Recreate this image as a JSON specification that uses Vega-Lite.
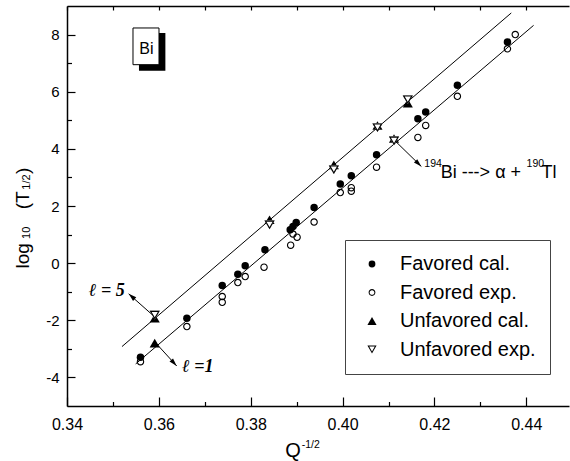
{
  "$schema": "https://vega.github.io/schema/vega-lite/v6.json",
  "width": 502,
  "height": 400,
  "autosize": {"type": "none"},
  "padding": {"left": 67, "top": 6, "right": 1, "bottom": 55},
  "background": "white",
  "config": {
    "view": {"stroke": null},
    "axis": {"grid": false},
    "font": "Liberation Sans",
    "legend": {
      "orient": "none",
      "legendX": 278,
      "legendY": 234,
      "padding": 14,
      "rowPadding": 8.5,
      "symbolOffset": 3,
      "labelOffset": 18,
      "labelFontSize": 20,
      "labelFont": "Liberation Sans",
      "labelColor": "black",
      "strokeColor": "#444444",
      "fillColor": "white",
      "symbolSize": 46,
      "symbolFillColor": "black",
      "symbolStrokeWidth": 0
    }
  },
  "datasets": {
    "pts": [
      {"x": 0.3560, "y": -3.29, "series": "Favored cal."},
      {"x": 0.3661, "y": -1.93, "series": "Favored cal."},
      {"x": 0.3738, "y": -0.78, "series": "Favored cal."},
      {"x": 0.3772, "y": -0.39, "series": "Favored cal."},
      {"x": 0.3788, "y": -0.09, "series": "Favored cal."},
      {"x": 0.3831, "y": 0.47, "series": "Favored cal."},
      {"x": 0.3886, "y": 1.17, "series": "Favored cal."},
      {"x": 0.3892, "y": 1.28, "series": "Favored cal."},
      {"x": 0.3899, "y": 1.42, "series": "Favored cal."},
      {"x": 0.3938, "y": 1.95, "series": "Favored cal."},
      {"x": 0.3995, "y": 2.77, "series": "Favored cal."},
      {"x": 0.4019, "y": 3.06, "series": "Favored cal."},
      {"x": 0.4074, "y": 3.79, "series": "Favored cal."},
      {"x": 0.4164, "y": 5.05, "series": "Favored cal."},
      {"x": 0.4181, "y": 5.29, "series": "Favored cal."},
      {"x": 0.4250, "y": 6.23, "series": "Favored cal."},
      {"x": 0.4359, "y": 7.74, "series": "Favored cal."},
      {"x": 0.3560, "y": -3.45, "series": "Favored exp."},
      {"x": 0.3661, "y": -2.22, "series": "Favored exp."},
      {"x": 0.3738, "y": -1.17, "series": "Favored exp."},
      {"x": 0.3738, "y": -1.37, "series": "Favored exp."},
      {"x": 0.3772, "y": -0.68, "series": "Favored exp."},
      {"x": 0.3788, "y": -0.47, "series": "Favored exp."},
      {"x": 0.3829, "y": -0.14, "series": "Favored exp."},
      {"x": 0.3887, "y": 0.63, "series": "Favored exp."},
      {"x": 0.3892, "y": 1.02, "series": "Favored exp."},
      {"x": 0.3901, "y": 0.91, "series": "Favored exp."},
      {"x": 0.3938, "y": 1.44, "series": "Favored exp."},
      {"x": 0.3995, "y": 2.47, "series": "Favored exp."},
      {"x": 0.4019, "y": 2.64, "series": "Favored exp."},
      {"x": 0.4019, "y": 2.52, "series": "Favored exp."},
      {"x": 0.4074, "y": 3.36, "series": "Favored exp."},
      {"x": 0.4164, "y": 4.40, "series": "Favored exp."},
      {"x": 0.4181, "y": 4.82, "series": "Favored exp."},
      {"x": 0.4250, "y": 5.84, "series": "Favored exp."},
      {"x": 0.4359, "y": 7.50, "series": "Favored exp."},
      {"x": 0.4376, "y": 8.00, "series": "Favored exp."},
      {"x": 0.3591, "y": -1.93, "series": "Unfavored cal."},
      {"x": 0.3591, "y": -2.80, "series": "Unfavored cal."},
      {"x": 0.3841, "y": 1.52, "series": "Unfavored cal."},
      {"x": 0.3981, "y": 3.44, "series": "Unfavored cal."},
      {"x": 0.4076, "y": 4.82, "series": "Unfavored cal."},
      {"x": 0.4112, "y": 4.36, "series": "Unfavored cal."},
      {"x": 0.4142, "y": 5.60, "series": "Unfavored cal."},
      {"x": 0.3591, "y": -1.82, "series": "Unfavored exp."},
      {"x": 0.3841, "y": 1.34, "series": "Unfavored exp."},
      {"x": 0.3981, "y": 3.27, "series": "Unfavored exp."},
      {"x": 0.4076, "y": 4.74, "series": "Unfavored exp."},
      {"x": 0.4112, "y": 4.28, "series": "Unfavored exp."},
      {"x": 0.4142, "y": 5.72, "series": "Unfavored exp."}
    ],
    "fits": [
      {"x": 0.35197, "y": -2.92, "x2": 0.43673, "y2": 8.757},
      {"x": 0.35495, "y": -3.527, "x2": 0.44159, "y2": 8.322}
    ],
    "arrows": [
      {"name": "l5", "x": 0.35909, "y": -1.881, "x2": 0.35343, "y2": -1.075},
      {"name": "l1", "x": 0.35931, "y": -2.792, "x2": 0.36388, "y2": -3.597},
      {"name": "bi", "x": 0.41118, "y": 4.319, "x2": 0.41715, "y2": 3.384}
    ],
    "box": [
      {"part": "shadow", "x": 0.35567, "x2": 0.36142, "y": 8.056, "y2": 6.736},
      {"part": "box", "x": 0.35437, "x2": 0.36003, "y": 8.231, "y2": 6.946}
    ],
    "notes": [
      {"k": "sup", "t": "194", "x": 0.4178, "y": 3.356},
      {"k": "mid", "t": "Bi ---> α +", "x": 0.42135, "y": 2.977},
      {"k": "sup", "t": "190", "x": 0.44007, "y": 3.356},
      {"k": "mid", "t": "Tl", "x": 0.44333, "y": 2.977},
      {"k": "ell", "t": "ℓ = 5", "x": 0.34864, "y": -0.963},
      {"k": "ell", "t": "ℓ =1", "x": 0.36845, "y": -3.65},
      {"k": "bi", "t": "Bi", "x": 0.35728, "y": 7.32},
      {"k": "xt", "t": "Q", "x": 0.3892, "y": -6.785},
      {"k": "sup", "t": "-1/2", "x": 0.39109, "y": -6.469},
      {"k": "ytb", "t": "log", "x": 0.33049, "y": 0.256},
      {"k": "yts", "t": "10", "x": 0.33123, "y": 1.061},
      {"k": "ytb", "t": "(T", "x": 0.33049, "y": 2.2},
      {"k": "yts", "t": "1/2", "x": 0.33123, "y": 2.84},
      {"k": "ytb", "t": ")", "x": 0.33049, "y": 3.23}
    ]
  },
  "resolve": {"axis": {"x": "independent", "y": "independent"}},
  "layer": [
    {
      "data": {"name": "fits"},
      "mark": {"type": "rule", "color": "black", "strokeWidth": 1},
      "encoding": {
        "x": {"field": "x", "type": "quantitative", "scale": {"domain": [0.34, 0.4493], "nice": false, "zero": false},
          "axis": {"orient": "bottom", "values": [0.34, 0.36, 0.38, 0.40, 0.42, 0.44], "ticks": false, "labelPadding": 10, "labelFontSize": 16, "labelFont": "Liberation Sans", "labelColor": "black", "labelExpr": "format(datum.value, '.2f')", "labelFlush": false, "labelOverlap": false, "domain": true, "domainColor": "black", "domainWidth": 1.5, "grid": false, "title": null}},
        "y": {"field": "y", "type": "quantitative", "scale": {"domain": [-5, 9], "nice": false, "zero": false},
          "axis": {"orient": "left", "values": [-4, -2, 0, 2, 4, 6, 8], "ticks": false, "labelPadding": 8, "labelFontSize": 15, "labelFont": "Liberation Sans", "labelColor": "black", "labelExpr": "'' + datum.value", "labelFlush": false, "labelOverlap": false, "domain": true, "domainColor": "black", "domainWidth": 1.5, "grid": false, "title": null}},
        "x2": {"field": "x2"},
        "y2": {"field": "y2"}
      }
    },
    {
      "data": {"name": "arrows"},
      "mark": {"type": "rule", "color": "black", "strokeWidth": 1},
      "encoding": {
        "x": {"field": "x", "type": "quantitative", "scale": {"domain": [0.34, 0.4493], "nice": false, "zero": false},
          "axis": {"orient": "bottom", "values": [0.34, 0.36, 0.38, 0.40, 0.42, 0.44], "tickSize": -9, "tickColor": "black", "tickWidth": 1.2, "labels": false, "domain": false, "grid": false, "title": null}},
        "y": {"field": "y", "type": "quantitative", "scale": {"domain": [-5, 9], "nice": false, "zero": false},
          "axis": {"orient": "left", "values": [-4, -2, 0, 2, 4, 6, 8], "tickSize": -8, "tickColor": "black", "tickWidth": 1.2, "labels": false, "domain": false, "grid": false, "title": null}},
        "x2": {"field": "x2"},
        "y2": {"field": "y2"}
      }
    },
    {
      "data": {"name": "arrows"},
      "transform": [{"filter": "datum.name === 'l5'"}],
      "mark": {"type": "point", "filled": true, "color": "black", "opacity": 1, "size": 64, "shape": "M0,0L-0.6,2L0.6,2Z", "angle": 311.5},
      "encoding": {
        "x": {"field": "x2", "type": "quantitative", "scale": {"domain": [0.34, 0.4493], "nice": false, "zero": false},
          "axis": {"orient": "bottom", "values": [0.35, 0.37, 0.39, 0.41, 0.43], "tickSize": -4.5, "tickColor": "black", "tickWidth": 1.2, "labels": false, "domain": false, "grid": false, "title": null}},
        "y": {"field": "y2", "type": "quantitative", "scale": {"domain": [-5, 9], "nice": false, "zero": false},
          "axis": {"orient": "left", "values": [-3, -1, 1, 3, 5, 7], "tickSize": -4.5, "tickColor": "black", "tickWidth": 1.2, "labels": false, "domain": false, "grid": false, "title": null}}
      }
    },
    {
      "data": {"name": "arrows"},
      "transform": [{"filter": "datum.name === 'l1'"}],
      "mark": {"type": "point", "filled": true, "color": "black", "opacity": 1, "size": 64, "shape": "M0,0L-0.6,2L0.6,2Z", "angle": 137.6},
      "encoding": {
        "x": {"field": "x2", "type": "quantitative", "scale": {"domain": [0.34, 0.4493], "nice": false, "zero": false}, "axis": null},
        "y": {"field": "y2", "type": "quantitative", "scale": {"domain": [-5, 9], "nice": false, "zero": false}, "axis": null}
      }
    },
    {
      "data": {"name": "arrows"},
      "transform": [{"filter": "datum.name === 'bi'"}],
      "mark": {"type": "point", "filled": true, "color": "black", "opacity": 1, "size": 64, "shape": "M0,0L-0.6,2L0.6,2Z", "angle": 134.3},
      "encoding": {
        "x": {"field": "x2", "type": "quantitative", "scale": {"domain": [0.34, 0.4493], "nice": false, "zero": false}, "axis": null},
        "y": {"field": "y2", "type": "quantitative", "scale": {"domain": [-5, 9], "nice": false, "zero": false}, "axis": null}
      }
    },
    {
      "data": {"name": "pts"},
      "mark": {"type": "point", "filled": true, "color": "black", "opacity": 1, "strokeWidth": 0, "size": 56},
      "encoding": {
        "x": {"field": "x", "type": "quantitative", "scale": {"domain": [0.34, 0.4493], "nice": false, "zero": false},
          "axis": {"orient": "top", "values": [0.34, 0.35, 0.36, 0.37, 0.38, 0.39, 0.40, 0.41, 0.42, 0.43, 0.44], "tickSize": -4, "tickColor": "black", "tickWidth": 1.2, "labels": false, "domain": true, "domainColor": "black", "domainWidth": 1.5, "grid": false, "title": null}},
        "y": {"field": "y", "type": "quantitative", "scale": {"domain": [-5, 9], "nice": false, "zero": false}, "axis": null},
        "shape": {"field": "series", "type": "nominal",
          "scale": {"domain": ["Favored cal.", "Favored exp.", "Unfavored cal.", "Unfavored exp."],
            "range": [
              "circle",
              "M-1,0A1,1 0 1,1 1,0A1,1 0 1,1 -1,0Z M-0.7,0A0.7,0.7 0 1,0 0.7,0A0.7,0.7 0 1,0 -0.7,0Z",
              "M0,-1.15L1.35,1.15L-1.35,1.15Z",
              "M0,1.15L1.35,-1.15L-1.35,-1.15Z M0,0.558L-0.826,-0.85L0.826,-0.85Z"
            ]},
          "legend": {"title": null}}
      }
    },
    {
      "data": {"name": "pts"},
      "transform": [{"filter": "datum.series === 'Unfavored exp.'"}],
      "mark": {"type": "point", "filled": true, "color": "white", "opacity": 1, "strokeWidth": 0, "size": 56, "shape": "M0,1.15L1.35,-1.15L-1.35,-1.15Z"},
      "encoding": {
        "x": {"field": "x", "type": "quantitative", "scale": {"domain": [0.34, 0.4493], "nice": false, "zero": false}, "axis": null},
        "y": {"field": "y", "type": "quantitative", "scale": {"domain": [-5, 9], "nice": false, "zero": false}, "axis": null}
      }
    },
    {
      "data": {"name": "pts"},
      "transform": [{"filter": "datum.series === 'Unfavored exp.'"}],
      "mark": {"type": "point", "filled": true, "color": "black", "opacity": 1, "strokeWidth": 0, "size": 56, "shape": "M0,1.15L1.35,-1.15L-1.35,-1.15Z M0,0.558L-0.826,-0.85L0.826,-0.85Z"},
      "encoding": {
        "x": {"field": "x", "type": "quantitative", "scale": {"domain": [0.34, 0.4493], "nice": false, "zero": false}, "axis": null},
        "y": {"field": "y", "type": "quantitative", "scale": {"domain": [-5, 9], "nice": false, "zero": false}, "axis": null}
      }
    },
    {
      "data": {"name": "box"},
      "transform": [{"filter": "datum.part === 'shadow'"}],
      "mark": {"type": "rect", "fill": "black"},
      "encoding": {
        "x": {"field": "x", "type": "quantitative", "scale": {"domain": [0.34, 0.4493], "nice": false, "zero": false}, "axis": null},
        "x2": {"field": "x2"},
        "y": {"field": "y", "type": "quantitative", "scale": {"domain": [-5, 9], "nice": false, "zero": false}, "axis": null},
        "y2": {"field": "y2"}
      }
    },
    {
      "data": {"name": "box"},
      "transform": [{"filter": "datum.part === 'box'"}],
      "mark": {"type": "rect", "fill": "white", "stroke": "black", "strokeWidth": 1},
      "encoding": {
        "x": {"field": "x", "type": "quantitative", "scale": {"domain": [0.34, 0.4493], "nice": false, "zero": false}, "axis": null},
        "x2": {"field": "x2"},
        "y": {"field": "y", "type": "quantitative", "scale": {"domain": [-5, 9], "nice": false, "zero": false}, "axis": null},
        "y2": {"field": "y2"}
      }
    },
    {
      "data": {"name": "notes"},
      "transform": [{"filter": "datum.k === 'sup'"}],
      "mark": {"type": "text", "font": "Liberation Sans", "fontSize": 10.5, "align": "left", "baseline": "alphabetic", "color": "black"},
      "encoding": {
        "x": {"field": "x", "type": "quantitative", "scale": {"domain": [0.34, 0.4493], "nice": false, "zero": false}, "axis": null},
        "y": {"field": "y", "type": "quantitative", "scale": {"domain": [-5, 9], "nice": false, "zero": false}, "axis": null},
        "text": {"field": "t"}
      }
    },
    {
      "data": {"name": "notes"},
      "transform": [{"filter": "datum.k === 'mid'"}],
      "mark": {"type": "text", "font": "Liberation Sans", "fontSize": 18, "align": "left", "baseline": "alphabetic", "color": "black"},
      "encoding": {
        "x": {"field": "x", "type": "quantitative", "scale": {"domain": [0.34, 0.4493], "nice": false, "zero": false}, "axis": null},
        "y": {"field": "y", "type": "quantitative", "scale": {"domain": [-5, 9], "nice": false, "zero": false}, "axis": null},
        "text": {"field": "t"}
      }
    },
    {
      "data": {"name": "notes"},
      "transform": [{"filter": "datum.k === 'ell'"}],
      "mark": {"type": "text", "font": "Liberation Serif", "fontSize": 18, "fontStyle": "italic", "fontWeight": "bold", "align": "center", "baseline": "middle", "color": "black"},
      "encoding": {
        "x": {"field": "x", "type": "quantitative", "scale": {"domain": [0.34, 0.4493], "nice": false, "zero": false}, "axis": null},
        "y": {"field": "y", "type": "quantitative", "scale": {"domain": [-5, 9], "nice": false, "zero": false}, "axis": null},
        "text": {"field": "t"}
      }
    },
    {
      "data": {"name": "notes"},
      "transform": [{"filter": "datum.k === 'bi'"}],
      "mark": {"type": "text", "font": "Liberation Sans", "fontSize": 16, "align": "center", "baseline": "alphabetic", "color": "black"},
      "encoding": {
        "x": {"field": "x", "type": "quantitative", "scale": {"domain": [0.34, 0.4493], "nice": false, "zero": false}, "axis": null},
        "y": {"field": "y", "type": "quantitative", "scale": {"domain": [-5, 9], "nice": false, "zero": false}, "axis": null},
        "text": {"field": "t"}
      }
    },
    {
      "data": {"name": "notes"},
      "transform": [{"filter": "datum.k === 'xt'"}],
      "mark": {"type": "text", "font": "Liberation Sans", "fontSize": 20, "align": "center", "baseline": "alphabetic", "color": "black"},
      "encoding": {
        "x": {"field": "x", "type": "quantitative", "scale": {"domain": [0.34, 0.4493], "nice": false, "zero": false}, "axis": null},
        "y": {"field": "y", "type": "quantitative", "scale": {"domain": [-5, 9], "nice": false, "zero": false}, "axis": null},
        "text": {"field": "t"}
      }
    },
    {
      "data": {"name": "notes"},
      "transform": [{"filter": "datum.k === 'ytb'"}],
      "mark": {"type": "text", "font": "Liberation Sans", "fontSize": 19, "angle": 270, "align": "center", "baseline": "middle", "color": "black"},
      "encoding": {
        "x": {"field": "x", "type": "quantitative", "scale": {"domain": [0.34, 0.4493], "nice": false, "zero": false}, "axis": null},
        "y": {"field": "y", "type": "quantitative", "scale": {"domain": [-5, 9], "nice": false, "zero": false}, "axis": null},
        "text": {"field": "t"}
      }
    },
    {
      "data": {"name": "notes"},
      "transform": [{"filter": "datum.k === 'yts'"}],
      "mark": {"type": "text", "font": "Liberation Sans", "fontSize": 11, "angle": 270, "align": "center", "baseline": "middle", "color": "black"},
      "encoding": {
        "x": {"field": "x", "type": "quantitative", "scale": {"domain": [0.34, 0.4493], "nice": false, "zero": false}, "axis": null},
        "y": {"field": "y", "type": "quantitative", "scale": {"domain": [-5, 9], "nice": false, "zero": false}, "axis": null},
        "text": {"field": "t"}
      }
    }
  ]
}
